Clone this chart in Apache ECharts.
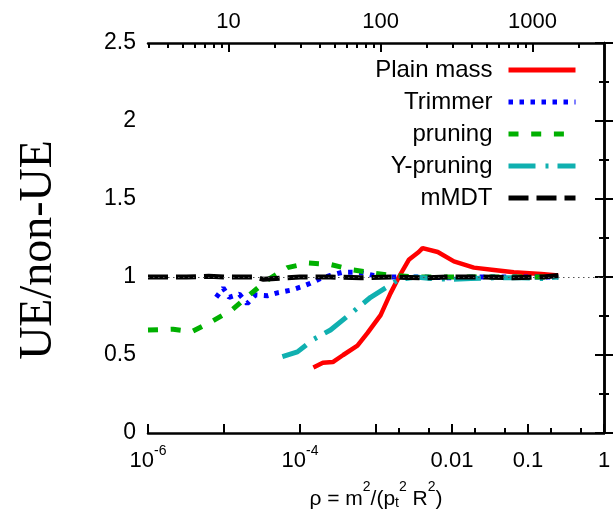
<!DOCTYPE html>
<html>
<head>
<meta charset="utf-8">
<title>UE/non-UE vs rho</title>
<script src="https://cdn.jsdelivr.net/npm/echarts@6/dist/echarts.min.js"></script>
<style>
  html, body { margin: 0; padding: 0; background: #fff; }
  #chart { width: 613px; height: 510px; }
</style>
</head>
<body>
<div id="chart"></div>
<script>
// ratio of jet-mass distributions with / without underlying event, vs rho = m^2/(pt^2 R^2)
const plainMassRho   = [1.5e-4, 2.0e-4, 2.7e-4, 3.7e-4, 5.7e-4, 7.7e-4, 1.15e-3, 1.55e-3, 2.0e-3, 2.7e-3, 3.65e-3, 4.1e-3, 6.5e-3, 0.0106, 0.0194, 0.0356, 0.065, 0.149, 0.25];
const plainMassRatio = [0.42, 0.45, 0.455, 0.50, 0.56, 0.64, 0.756, 0.895, 1.0, 1.11, 1.16, 1.185, 1.16, 1.10, 1.06, 1.045, 1.03, 1.02, 1.01];

const trimmerRho   = [7.9e-6, 9.75e-6, 1.17e-5, 1.59e-5, 2.02e-5, 2.58e-5, 3.72e-5, 5.19e-5, 7.46e-5, 1.01e-4, 1.37e-4, 1.86e-4, 2.52e-4, 3.62e-4, 5.06e-4, 6.85e-4, 9.29e-4, 1.56e-3, 3.87e-3, 9.64e-3, 0.024, 0.0597, 0.149, 0.25];
const trimmerRatio = [0.87, 0.93, 0.87, 0.89, 0.83, 0.885, 0.88, 0.90, 0.915, 0.935, 0.96, 0.99, 1.01, 1.03, 1.03, 1.025, 1.01, 1.0, 1.0, 0.995, 1.0, 1.0, 1.0, 1.0];

const pruningRho   = [1e-6, 2.14e-6, 3.8e-6, 7.21e-6, 1.28e-5, 2.22e-5, 3.72e-5, 6.83e-5, 1.29e-4, 2.52e-4, 5.06e-4, 9.29e-4, 1.56e-3, 3.87e-3, 9.64e-3, 0.024, 0.0597, 0.149, 0.25];
const pruningRatio = [0.66, 0.665, 0.65, 0.72, 0.79, 0.89, 0.98, 1.06, 1.09, 1.08, 1.045, 1.025, 1.01, 1.0, 1.0, 1.0, 1.0, 1.0, 1.0];

const yPruningRho   = [5.86e-5, 9.25e-5, 1.5e-4, 2.52e-4, 5.06e-4, 8.49e-4, 1.34e-3, 1.93e-3, 2.46e-3, 3.33e-3, 5.25e-3, 9.64e-3, 0.0177, 0.0378, 0.0809, 0.149, 0.25];
const yPruningRatio = [0.49, 0.52, 0.60, 0.66, 0.78, 0.87, 0.93, 0.98, 0.99, 1.0, 0.99, 0.985, 0.99, 0.995, 0.995, 0.99, 1.0];

const mmdtRho   = [1e-6, 3.2e-6, 6.3e-6, 1e-5, 2.5e-5, 3.3e-5, 6.3e-5, 1e-4, 2.5e-4, 6.3e-4, 1.6e-3, 4e-3, 0.01, 0.025, 0.063, 0.16, 0.25];
const mmdtRatio = [1.0, 1.0, 1.005, 1.0, 1.0, 0.985, 0.995, 1.0, 1.0, 0.995, 1.0, 0.995, 1.0, 1.0, 0.995, 1.0, 1.01];

// axis ranges and tick positions
const rhoMin = 1e-6, rhoMax = 1;
const ratioMin = 0, ratioMax = 2.5, ratioStep = 0.5;
const rhoLabelled = [-6, -4, -2, -1, 0];
const rhoMinorTicks = [2e-3, 5e-3, 2e-2, 5e-2, 0.2, 0.5];
const massLabels = [10, 100, 1000];
const PT_R = 2950; // pt * R (GeV), sets the mass scale on the top axis

const FONT = '"Liberation Sans", Arial, sans-serif';
const lg = Math.log10;

const massMinLog = lg(PT_R * Math.sqrt(rhoMin));
const massMaxLog = lg(PT_R * Math.sqrt(rhoMax));
const massMinor = [];
for (let n = 0; n <= 3; n++) {
  for (let k = 2; k <= 9; k++) {
    const v = lg(k * Math.pow(10, n));
    if (v > massMinLog && v < massMaxLog) massMinor.push(v);
  }
}

const pairs = (xs, ys) => xs.map((x, i) => [x, ys[i]]);

function rhoLabel(v) {
  const d = Math.round(v);
  if (rhoLabelled.indexOf(d) < 0) return '';
  if (d <= -3) return '{b|10}{s|' + d + '}';
  return '{b|' + String(Math.pow(10, d)) + '}';
}

const frame = { show: true, lineStyle: { color: '#000', width: 2.5 } };
const tickStyle = { color: '#000', width: 2 };

const chart = echarts.init(document.getElementById('chart'), null, { renderer: 'canvas' });

const option = {
  animation: false,
  backgroundColor: '#fff',
  grid: { left: 148, right: 9, top: 43, bottom: 77, containLabel: false, outerBoundsMode: 'none' },
  legend: {
    orient: 'vertical',
    right: 35,
    top: 58,
    align: 'right',
    padding: 0,
    itemWidth: 67,
    itemHeight: 14,
    itemGap: 8,
    selectedMode: false,
    itemStyle: { opacity: 0 },
    lineStyle: { width: 5 },
    textStyle: { fontFamily: FONT, fontSize: 24, color: '#000', padding: [0, 11, 0, 0] },
    data: ['Plain mass', 'Trimmer', 'pruning', 'Y-pruning', 'mMDT']
  },
  graphic: [{
    type: 'text',
    x: 39,
    y: 250,
    rotation: Math.PI / 2,
    style: {
      text: 'UE/non-UE',
      font: '46px "Liberation Serif", "Times New Roman", serif',
      fill: '#000',
      align: 'center',
      verticalAlign: 'middle'
    }
  }],
  xAxis: [
    { // data axis (log rho), hidden
      type: 'log', logBase: 10, min: rhoMin, max: rhoMax, show: false, gridIndex: 0
    },
    { // bottom axis: decades of rho
      type: 'value', position: 'bottom', min: lg(rhoMin), max: lg(rhoMax), interval: 1,
      axisLine: frame,
      axisTick: { show: true, inside: true, length: 9, lineStyle: tickStyle },
      splitLine: { show: false },
      axisLabel: {
        margin: 11,
        formatter: rhoLabel,
        rich: {
          b: { fontFamily: FONT, fontSize: 22, color: '#000', lineHeight: 28, verticalAlign: 'bottom' },
          s: { fontFamily: FONT, fontSize: 14, color: '#000', lineHeight: 10, verticalAlign: 'top' }
        }
      },
      name: '{a|ρ = m}{s|2}{a|/(p}{t|t}{s|2}{a| R}{s|2}{a|)}',
      nameLocation: 'middle',
      nameGap: 47,
      nameTextStyle: {
        rich: {
          a: { fontFamily: FONT, fontSize: 21, color: '#000', lineHeight: 30, verticalAlign: 'bottom' },
          s: { fontFamily: FONT, fontSize: 14, color: '#000', lineHeight: 13, verticalAlign: 'top' },
          t: { fontFamily: FONT, fontSize: 14, color: '#000', lineHeight: 12, verticalAlign: 'bottom' }
        }
      }
    },
    { // bottom axis: minor rho ticks
      type: 'value', position: 'bottom', min: lg(rhoMin), max: lg(rhoMax),
      axisLine: { show: false },
      axisLabel: { show: false },
      splitLine: { show: false },
      axisTick: { show: true, inside: true, length: 5, customValues: rhoMinorTicks.map(lg), lineStyle: tickStyle }
    },
    { // top axis: jet mass m (GeV)
      type: 'value', position: 'top', min: massMinLog, max: massMaxLog,
      axisLine: frame,
      splitLine: { show: false },
      axisTick: { show: true, inside: true, length: 9, customValues: massLabels.map(lg), lineStyle: tickStyle },
      axisLabel: {
        margin: 10, fontFamily: FONT, fontSize: 22, color: '#000',
        customValues: massLabels.map(lg),
        formatter: v => String(Math.round(Math.pow(10, v)))
      }
    },
    { // top axis: minor mass ticks
      type: 'value', position: 'top', min: massMinLog, max: massMaxLog,
      axisLine: { show: false },
      axisLabel: { show: false },
      splitLine: { show: false },
      axisTick: { show: true, inside: true, length: 5, customValues: massMinor, lineStyle: tickStyle }
    }
  ],
  yAxis: [
    {
      type: 'value', position: 'left', min: ratioMin, max: ratioMax, interval: ratioStep,
      axisLine: frame,
      splitLine: { show: false },
      axisTick: { show: true, inside: true, length: 9, lineStyle: tickStyle },
      minorTick: { show: true, splitNumber: 2, length: 5, lineStyle: tickStyle },
      axisLabel: { margin: 12, fontFamily: FONT, fontSize: 23, color: '#000' }
    },
    {
      type: 'value', position: 'right', min: ratioMin, max: ratioMax, interval: ratioStep,
      axisLine: frame,
      splitLine: { show: false },
      axisTick: { show: true, inside: true, length: 9, lineStyle: tickStyle },
      minorTick: { show: true, splitNumber: 2, length: 5, lineStyle: tickStyle },
      axisLabel: { show: false }
    }
  ],
  series: [
    {
      name: 'Plain mass', type: 'line', xAxisIndex: 0, yAxisIndex: 0,
      symbol: 'none', showSymbol: false,
      data: pairs(plainMassRho, plainMassRatio),
      itemStyle: { color: '#ff0000' },
      lineStyle: { color: '#ff0000', width: 4.5, type: 'solid' },
      markLine: {
        silent: true, symbol: 'none', label: { show: false },
        lineStyle: { color: '#555', width: 1.2, type: [1.5, 3.5] },
        data: [{ yAxis: 1 }]
      }
    },
    {
      name: 'Trimmer', type: 'line', xAxisIndex: 0, yAxisIndex: 0,
      symbol: 'none', showSymbol: false,
      data: pairs(trimmerRho, trimmerRatio),
      itemStyle: { color: '#0000ff' },
      lineStyle: { color: '#0000ff', width: 5, type: [4.5, 6.5] }
    },
    {
      name: 'pruning', type: 'line', xAxisIndex: 0, yAxisIndex: 0,
      symbol: 'none', showSymbol: false,
      data: pairs(pruningRho, pruningRatio),
      itemStyle: { color: '#00b000' },
      lineStyle: { color: '#00b000', width: 5, type: [10, 12.7] }
    },
    {
      name: 'Y-pruning', type: 'line', xAxisIndex: 0, yAxisIndex: 0,
      symbol: 'none', showSymbol: false,
      data: pairs(yPruningRho, yPruningRatio),
      itemStyle: { color: '#10b0b0' },
      lineStyle: { color: '#10b0b0', width: 5, type: [27, 10, 3, 9] }
    },
    {
      name: 'mMDT', type: 'line', xAxisIndex: 0, yAxisIndex: 0,
      symbol: 'none', showSymbol: false,
      data: pairs(mmdtRho, mmdtRatio),
      itemStyle: { color: '#000000' },
      lineStyle: { color: '#000000', width: 5, type: [20, 8] }
    }
  ]
};

chart.setOption(option);
</script>
</body>
</html>
